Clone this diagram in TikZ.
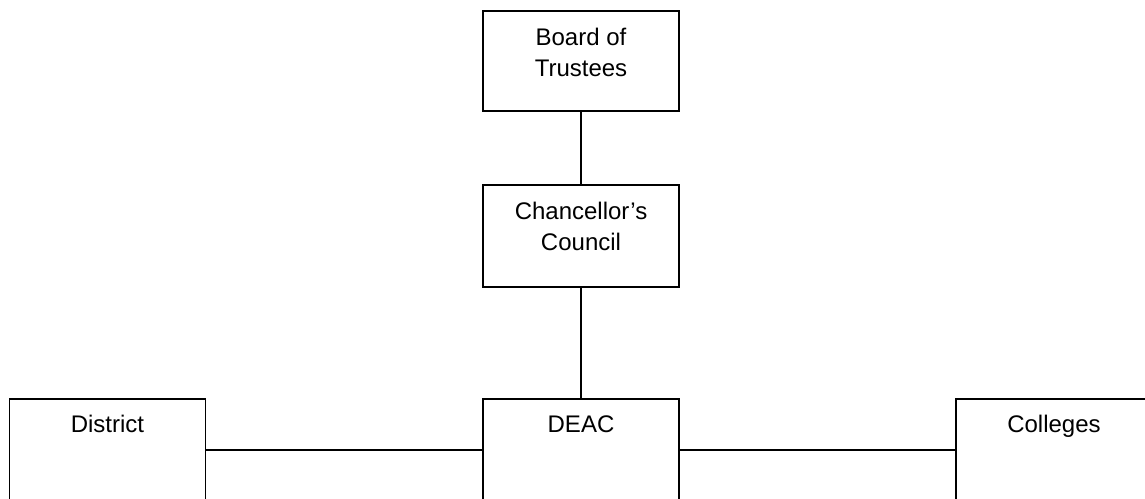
\documentclass[tikz,border=0pt]{standalone}
\usepackage{fontspec}
\setmainfont{Liberation Sans}
\begin{document}
\begin{tikzpicture}[x=0.5pt,y=-0.5pt,
  orgbox/.style={draw=black, line width=0.65pt, fill=none, inner sep=0pt, minimum width=98pt},
  lbl/.style={anchor=base, inner sep=0pt, font=\fontsize{12pt}{14.5pt}\selectfont},
  conn/.style={draw=black, line width=0.65pt}]
\useasboundingbox (0,0) rectangle (1145,498);
\fill[white] (0,0) rectangle (1145,498);
\node[orgbox, minimum height=50pt] (board) at (581,61) {};
\node[orgbox, minimum height=51pt] (chanc) at (581,236) {};
\node[orgbox, minimum height=60pt] (deac) at (581,459) {};
\node[orgbox, minimum height=60pt] (district) at (107.5,459) {};
\node[orgbox, minimum height=60pt] (colleges) at (1054,459) {};
\node[lbl] (board1) at (581,46) {Board of};
\node[lbl] (board2) at (581,76) {Trustees};
\node[lbl] (chanc1) at (581,219) {Chancellor’s};
\node[lbl] (chanc2) at (581,250) {Council};
\node[lbl] (deact) at (581,432) {DEAC};
\node[lbl] (districtt) at (107.5,432) {District};
\node[lbl] (collegest) at (1054,432) {Colleges};
\draw[conn] (board.south) -- (chanc.north);
\draw[conn] (chanc.south) -- (deac.north);
\draw[conn] (district.east |- 0,450) -- (deac.west |- 0,450);
\draw[conn] (deac.east |- 0,450) -- (colleges.west |- 0,450);
\end{tikzpicture}
\end{document}
